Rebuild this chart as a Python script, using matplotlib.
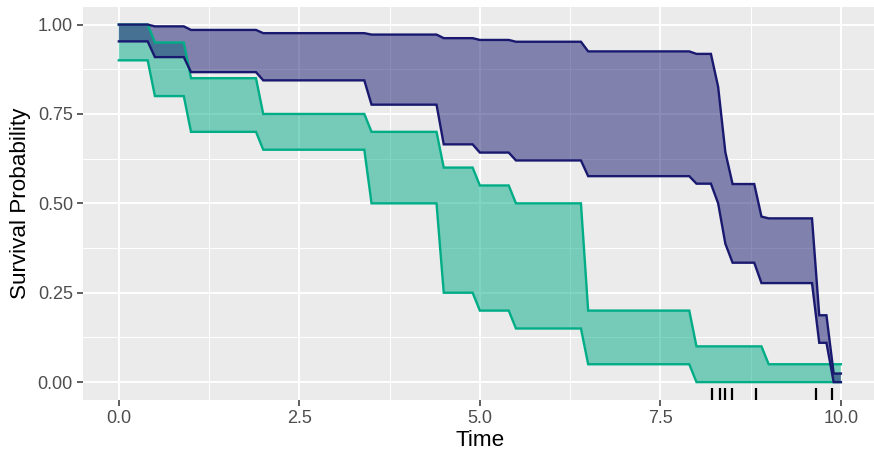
import numpy as np
import matplotlib
matplotlib.use("Agg")
import matplotlib.pyplot as plt
from matplotlib.ticker import MultipleLocator, FixedLocator

plt.rcParams['font.family'] = ['Liberation Sans', 'DejaVu Sans']

# ---- data ----
green_upper_x = [0, 0.4, 0.5, 0.9, 1.0, 1.9, 2.0, 3.4, 3.5, 4.4, 4.5, 4.9, 5.0, 5.4, 5.5, 6.4, 6.5, 7.9, 8.0, 8.9, 9.0, 10.0]
green_upper_y = [1.00, 1.00, 0.95, 0.95, 0.85, 0.85, 0.75, 0.75, 0.70, 0.70, 0.60, 0.60, 0.55, 0.55, 0.50, 0.50, 0.20, 0.20, 0.10, 0.10, 0.05, 0.05]
green_lower_x = [0, 0.4, 0.5, 0.9, 1.0, 1.9, 2.0, 3.4, 3.5, 4.4, 4.5, 4.9, 5.0, 5.4, 5.5, 6.4, 6.5, 7.9, 8.0, 10.0]
green_lower_y = [0.90, 0.90, 0.80, 0.80, 0.70, 0.70, 0.65, 0.65, 0.50, 0.50, 0.25, 0.25, 0.20, 0.20, 0.15, 0.15, 0.05, 0.05, 0.00, 0.00]

navy_upper_x = [0, 0.4, 0.5, 0.9, 1.0, 1.9, 2.0, 3.4, 3.5, 4.4, 4.5, 4.9, 5.0, 5.4, 5.5, 6.4, 6.5, 7.9, 8.0, 8.2, 8.3, 8.4, 8.5, 8.8, 8.9, 9.0, 9.6, 9.7, 9.8, 9.9, 10.0]
navy_upper_y = [1.00, 1.00, 0.995, 0.995, 0.985, 0.985, 0.976, 0.976, 0.972, 0.972, 0.962, 0.962, 0.957, 0.957, 0.952, 0.952, 0.925, 0.925, 0.918, 0.918, 0.826, 0.643, 0.554, 0.554, 0.463, 0.458, 0.458, 0.187, 0.187, 0.024, 0.024]
navy_lower_x = [0, 0.4, 0.5, 0.9, 1.0, 1.9, 2.0, 3.4, 3.5, 4.4, 4.5, 4.9, 5.0, 5.4, 5.5, 6.4, 6.5, 7.9, 8.0, 8.2, 8.3, 8.4, 8.5, 8.8, 8.9, 9.6, 9.7, 9.8, 9.9, 10.0]
navy_lower_y = [0.953, 0.953, 0.909, 0.909, 0.867, 0.867, 0.844, 0.844, 0.776, 0.776, 0.665, 0.665, 0.642, 0.642, 0.620, 0.620, 0.576, 0.576, 0.555, 0.555, 0.500, 0.387, 0.334, 0.334, 0.277, 0.277, 0.110, 0.110, 0.0, 0.0]

rug_x = [8.21, 8.33, 8.39, 8.49, 8.83, 9.66, 9.87]

x_ticks = [0.0, 2.5, 5.0, 7.5, 10.0]
x_tick_labels = ["0.0", "2.5", "5.0", "7.5", "10.0"]
y_ticks = [0.00, 0.25, 0.50, 0.75, 1.00]
y_tick_labels = ["0.00", "0.25", "0.50", "0.75", "1.00"]

green = '#00AD86'
navy = '#191970'

W, H = 874, 451
fig = plt.figure(figsize=(W / 100, H / 100), dpi=100)
left, right, top, bottom = 82.7, 877.0, 6.7, 400.0
ax = fig.add_axes([left / W, 1 - bottom / H, (right - left) / W, (bottom - top) / H])

ax.set_facecolor('#EBEBEB')
ax.set_xlim(-0.5, 10.5)
ax.set_ylim(-0.05, 1.05)

ax.xaxis.set_major_locator(FixedLocator(x_ticks))
ax.yaxis.set_major_locator(FixedLocator(y_ticks))
ax.xaxis.set_minor_locator(MultipleLocator(1.25))
ax.yaxis.set_minor_locator(MultipleLocator(0.125))
ax.set_xticklabels(x_tick_labels)
ax.set_yticklabels(y_tick_labels)

ax.grid(which='major', color='white', linewidth=1.4, zorder=0)
ax.grid(which='minor', color='white', linewidth=0.7, zorder=0)
ax.set_axisbelow(True)
for s in ax.spines.values():
    s.set_visible(False)

ax.tick_params(which='major', length=4, width=1.1, color='#333333', labelsize=13,
               labelcolor='#4D4D4D', pad=3)
ax.tick_params(which='minor', length=0)

def band(xu, yu, xl, yl, color):
    px = np.concatenate([np.asarray(xu), np.asarray(xl)[::-1]])
    py = np.concatenate([np.asarray(yu), np.asarray(yl)[::-1]])
    ax.fill(px, py, color=color, alpha=0.5, linewidth=0, zorder=2)
    ax.plot(xu, yu, color=color, linewidth=1.7, zorder=3, solid_joinstyle='miter')
    ax.plot(xl, yl, color=color, linewidth=1.7, zorder=3, solid_joinstyle='miter')

band(green_upper_x, green_upper_y, green_lower_x, green_lower_y, green)
band(navy_upper_x, navy_upper_y, navy_lower_x, navy_lower_y, navy)

for rx in rug_x:
    ax.plot([rx, rx], [0, 0.03], transform=ax.get_xaxis_transform(), color='black',
            linewidth=1.6, zorder=4, solid_capstyle='butt')

ax.set_xlabel('Time', fontsize=16.2, color='black', labelpad=2)
ax.set_ylabel('Survival Probability', fontsize=16.2, color='black', labelpad=5)

fig.savefig('out.png', dpi=100)
